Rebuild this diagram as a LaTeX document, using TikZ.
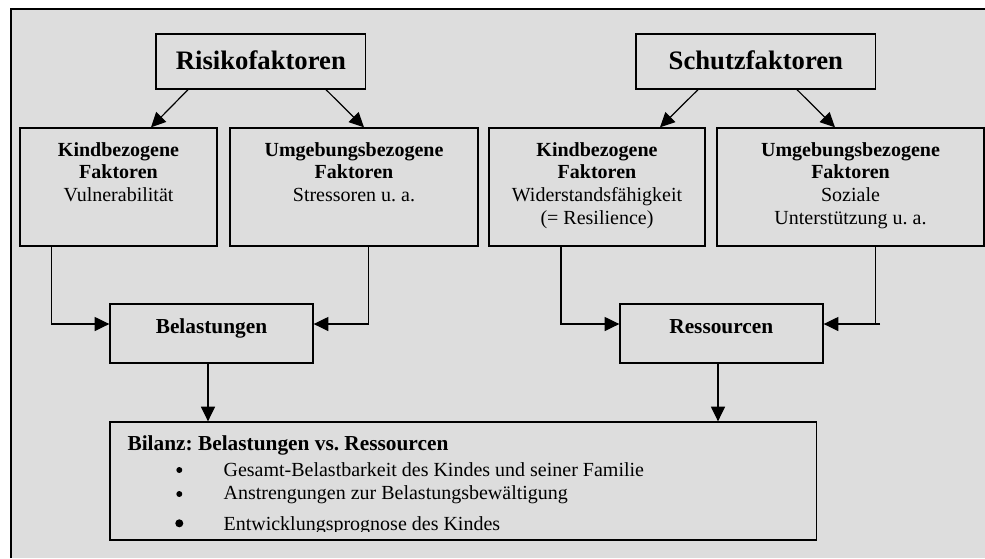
\documentclass[tikz,border=0pt]{standalone}
\usepackage{fontspec}
\setmainfont{Liberation Serif}
\usetikzlibrary{arrows.meta,fit}
\definecolor{bg}{RGB}{221,221,221}
\frenchspacing
\begin{document}
\begin{tikzpicture}[x=0.75pt,y=-0.75pt,
  box/.style={draw=black,line width=1pt,inner sep=0pt},
  arr/.style={line width=0.9pt,-{Triangle[length=11pt,width=10.5pt]}},
  ln/.style={line width=0.9pt},
  txt/.style={anchor=base,inner sep=0pt,align=center,font=\fontsize{15}{17.1}\selectfont},
  big/.style={anchor=base,inner sep=0pt,font=\fontsize{20}{24}\selectfont\bfseries},
  mid/.style={anchor=base,inner sep=0pt,font=\fontsize{16}{19}\selectfont\bfseries},
  itm/.style={anchor=base west,inner sep=0pt,font=\fontsize{15}{17.1}\selectfont},
]
\useasboundingbox (0,0) rectangle (985,558);
\fill[bg] (11,9) rectangle (985,558);
\draw[line width=1pt] (11,558) -- (11,9) -- (985,9);

% boxes
\node[box, fit={(156,34) (365.7,89)}] (r1) {};
\node[box, fit={(636,34) (875.7,89)}] (s1) {};
\node[box, fit={(20,128) (217,246)}] (k1) {};
\node[box, fit={(230,128) (478,246)}] (k2) {};
\node[box, fit={(489,128) (705,246)}] (k3) {};
\node[box, fit={(717,128) (984,246)}] (u2) {};
\node[box, fit={(110,304) (313,363)}] (bel) {};
\node[box, fit={(620,304) (823,363)}] (res) {};
\node[box, fit={(110,422) (816.7,540)}] (bil) {};

% texts (anchor base = baseline of last line)
\node[big] (t1) at (260.9,69.5) {Risikofaktoren};
\node[big] (t2) at (755.9,69.5) {Schutzfaktoren};
\node[txt] (tk1) at (118.5,201.6) {\textbf{Kindbezogene}\\\textbf{Faktoren}\\Vulnerabilität};
\node[txt] (tk2) at (354,201.6) {\textbf{Umgebungsbezogene}\\\textbf{Faktoren}\\Stressoren u. a.};
\node[txt] (tk3) at (597,224.4) {\textbf{Kindbezogene}\\\textbf{Faktoren}\\Widerstandsfähigkeit\\(= Resilience)};
\node[txt] (tk4) at (850.5,224.4) {\textbf{Umgebungsbezogene}\\\textbf{Faktoren}\\Soziale\\Unterstützung u. a.};
\node[mid] (tb) at (211.5,333.3) {Belastungen};
\node[mid] (tr) at (721.3,333.3) {Ressourcen};

\begin{scope}
\clip (110,422) rectangle (816.7,531);
\node[mid,anchor=base west] (tbil) at (127.3,450) {Bilanz: Belastungen vs. Ressourcen};
\node[itm] (i1) at (223.3,476.7) {Gesamt-Belastbarkeit des Kindes und seiner Familie};
\node[itm] (i2) at (223.3,499.5) {Anstrengungen zur Belastungsbewältigung};
\node[itm] (i3) at (223.3,530.5) {Entwicklungsprognose des Kindes};
\end{scope}
\fill (179.3,470) circle[radius=3];
\fill (179.3,494) circle[radius=3];
\fill (179.3,523.3) circle[radius=4];

% connectors
\coordinate (a1s) at (188,0); \coordinate (a1t) at (151,0);
\coordinate (a2s) at (326,0); \coordinate (a2t) at (364,0);
\coordinate (a3s) at (698,0); \coordinate (a3t) at (660,0);
\coordinate (a4s) at (797,0); \coordinate (a4t) at (835,0);
\draw[arr] (r1.south -| a1s) -- (k1.north -| a1t);
\draw[arr] (r1.south -| a2s) -- (k2.north -| a2t);
\draw[arr] (s1.south -| a3s) -- (k3.north -| a3t);
\draw[arr] (s1.south -| a4s) -- (u2.north -| a4t);

\coordinate (v1) at (51.7,324);
\coordinate (v2) at (368.7,324);
\coordinate (v3) at (561,324);
\coordinate (v4) at (875.7,324);
\coordinate (v4e) at (880,324);
\draw[arr] (k1.south -| v1) |- (bel.west |- v1);
\draw[arr] (k2.south -| v2) |- (bel.east |- v2);
\draw[arr] (k3.south -| v3) |- (res.west |- v3);
\draw[ln] (u2.south -| v4) -- (v4);
\draw[arr] (v4e) -- (res.east |- v4);

\coordinate (d1) at (208,0);
\coordinate (d2) at (718,0);
\draw[arr] (bel.south -| d1) -- (bil.north -| d1);
\draw[arr] (res.south -| d2) -- (bil.north -| d2);
\end{tikzpicture}
\end{document}
